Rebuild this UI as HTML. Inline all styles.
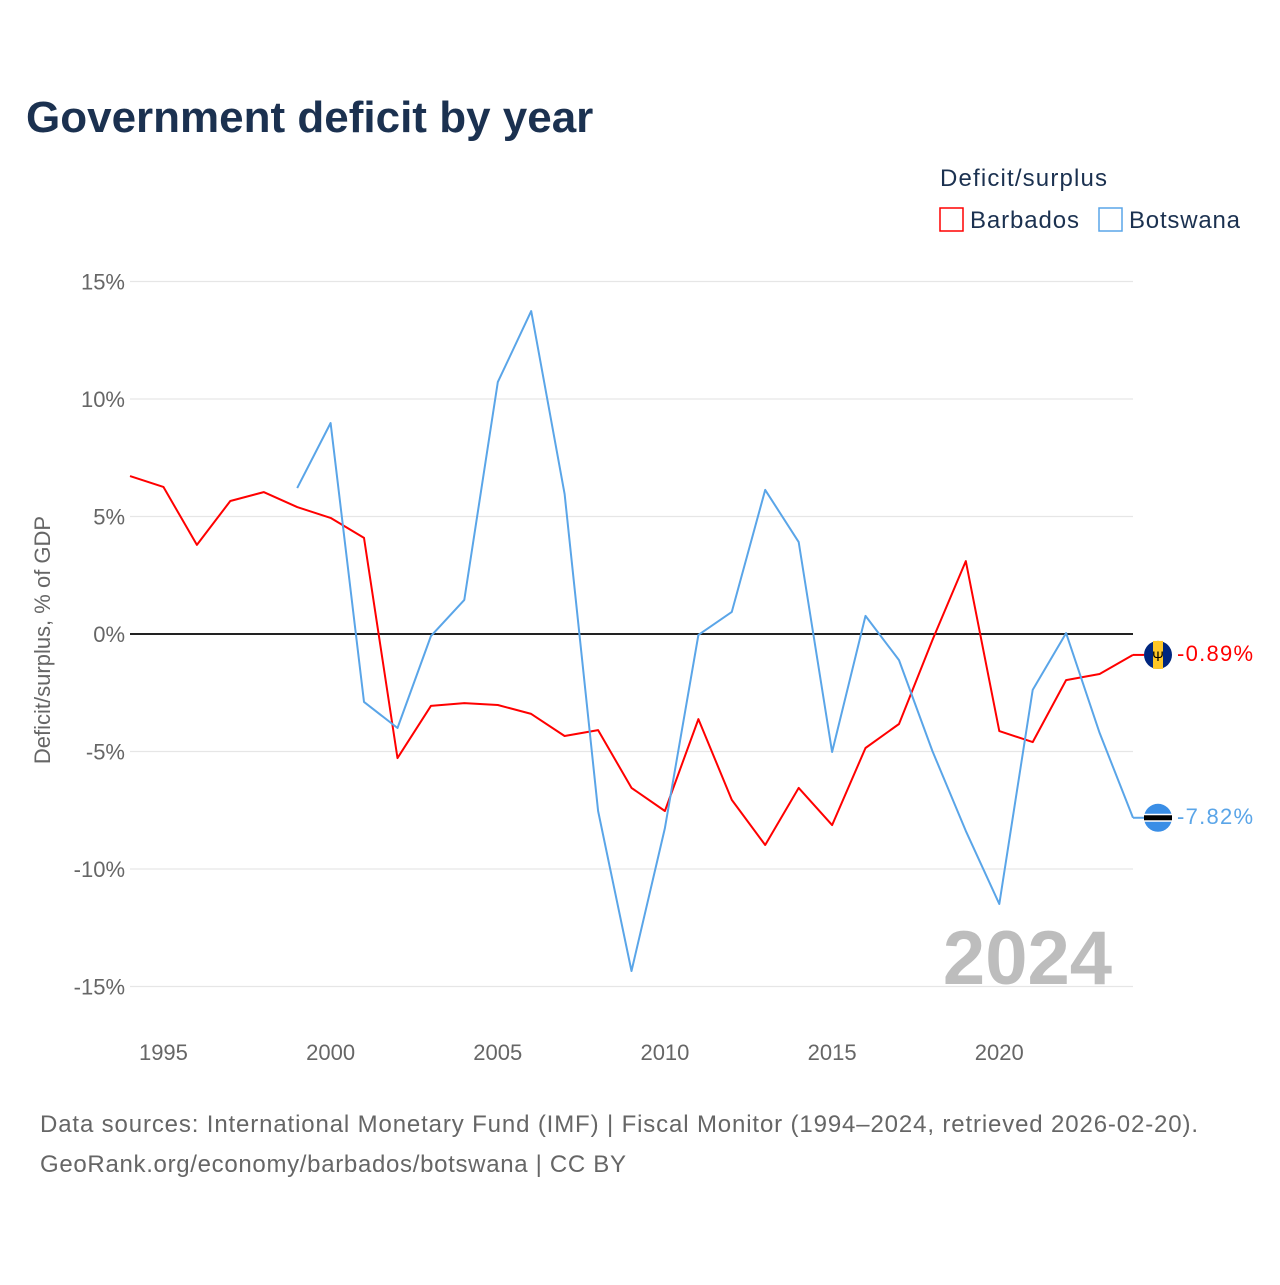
<!DOCTYPE html>
<html><head><meta charset="utf-8"><style>
body{margin:0;background:#fff;font-family:"Liberation Sans",sans-serif}
</style></head><body>
<svg id="chart" width="1280" height="1280" xmlns="http://www.w3.org/2000/svg">
<text x="26" y="132" font-size="44" font-weight="bold" fill="#1b3150">Government deficit by year</text>
<text x="940" y="186" font-size="24" fill="#1b3150" textLength="167">Deficit/surplus</text>
<g><rect x="940" y="208" width="23" height="23" fill="none" stroke="#ff0000" stroke-width="1.5"/><text x="970" y="228" font-size="24" fill="#1b3150" textLength="109">Barbados</text></g>
<g><rect x="1099" y="208" width="23" height="23" fill="none" stroke="#5aa5e8" stroke-width="1.5"/><text x="1129" y="228" font-size="24" fill="#1b3150" textLength="111">Botswana</text></g>
<text transform="translate(50,640) rotate(-90)" text-anchor="middle" font-size="22" fill="#666">Deficit/surplus, % of GDP</text>
<g id="grid"></g><g id="series"></g>
<text x="1112" y="984" text-anchor="end" font-size="76" font-weight="bold" fill="#bdbdbd">2024</text>
<text x="40" y="1132" font-size="24" fill="#666" textLength="1158">Data sources: International Monetary Fund (IMF) | Fiscal Monitor (1994–2024, retrieved 2026-02-20).</text>
<text x="40" y="1172" font-size="24" fill="#666" textLength="586">GeoRank.org/economy/barbados/botswana | CC BY</text>
</svg>
<script>
const years=[1994,1995,1996,1997,1998,1999,2000,2001,2002,2003,2004,2005,2006,2007,2008,2009,2010,2011,2012,2013,2014,2015,2016,2017,2018,2019,2020,2021,2022,2023,2024];
const barbados=[6.72,6.26,3.79,5.66,6.04,5.4,4.94,4.09,-5.28,-3.06,-2.94,-3.02,-3.4,-4.34,-4.09,-6.55,-7.53,-3.62,-7.06,-8.98,-6.55,-8.13,-4.85,-3.83,-0.26,3.1,-4.13,-4.6,-1.96,-1.7,-0.89];
const botswana=[null,null,null,null,null,6.21,8.98,-2.89,-4.0,-0.09,1.45,10.72,13.74,5.96,-7.53,-14.34,-8.26,-0.04,0.94,6.13,3.91,-5.02,0.77,-1.11,-4.98,-8.38,-11.49,-2.38,0.04,-4.21,-7.82];
const yTicks=[15,10,5,0,-5,-10,-15];
const yTickLabels=["15%","10%","5%","0%","-5%","-10%","-15%"];
const xTicks=[1995,2000,2005,2010,2015,2020];
const NS="http://www.w3.org/2000/svg";
const X=y=>130+(y-1994)*(1003/30);
const Y=v=>634-v*23.5;
function mk(t,a,p){const e=document.createElementNS(NS,t);for(const k in a)e.setAttribute(k,a[k]);p.appendChild(e);return e;}
const grid=document.getElementById('grid'),ser=document.getElementById('series');
yTicks.forEach((v,i)=>{
 const l=mk('line',{x1:130,x2:1133,y1:Y(v),y2:Y(v),stroke:v===0?'#222':'#e6e6e6','stroke-width':v===0?2:1.2},grid);
 
 
 const t=mk('text',{x:125,y:Y(v)+8,'text-anchor':'end','font-size':22,fill:'#666'},grid);t.textContent=yTickLabels[i];
 
 
});
xTicks.forEach(yr=>{
 const t=mk('text',{x:X(yr),y:1060,'text-anchor':'middle','font-size':22,fill:'#666'},grid);t.textContent=yr;
 
 
});
function line(vals,color,name){
 let d='',start=true;
 vals.forEach((v,i)=>{if(v===null){start=true;return;}d+=(start?'M':'L')+X(years[i]).toFixed(1)+','+Y(v).toFixed(1);start=false;});
 const p=mk('path',{d:d,fill:'none',stroke:color,'stroke-width':2,'stroke-linejoin':'round'},ser);
 
 
}
line(barbados,'#ff0000','barbados-line');
line(botswana,'#5aa5e8','botswana-line');
function endLabel(v,color,name,flag){
 const y=Y(v),cx=1158;
 const g=mk('g',{},ser);
 
 
 mk('line',{x1:1133,x2:cx-14,y1:y,y2:y,stroke:color,'stroke-width':2},g);
 if(flag==='bb'){
  mk('circle',{cx:cx,cy:y,r:14,fill:'#00267f'},g);
  mk('rect',{x:cx-5,y:y-14,width:10,height:28,fill:'#ffc726'},g);
  const t=mk('text',{x:cx,y:y+6,'text-anchor':'middle','font-size':14,fill:'#000'},g);t.textContent='Ψ';
 }else{
  mk('circle',{cx:cx,cy:y,r:14,fill:'#3a8ee6'},g);
  mk('rect',{x:cx-14,y:y-4,width:28,height:8,fill:'#fff'},g);
  mk('rect',{x:cx-14,y:y-2.5,width:28,height:5,fill:'#000'},g);
 }
 const t=mk('text',{x:1177,y:y+6,'font-size':22,fill:color,textLength:76},g);t.textContent=v.toFixed(2)+'%';
 
 
}
endLabel(barbados[barbados.length-1],'#ff0000','barbados','bb');
endLabel(botswana[botswana.length-1],'#5aa5e8','botswana','bw');
</script>
</body></html>
